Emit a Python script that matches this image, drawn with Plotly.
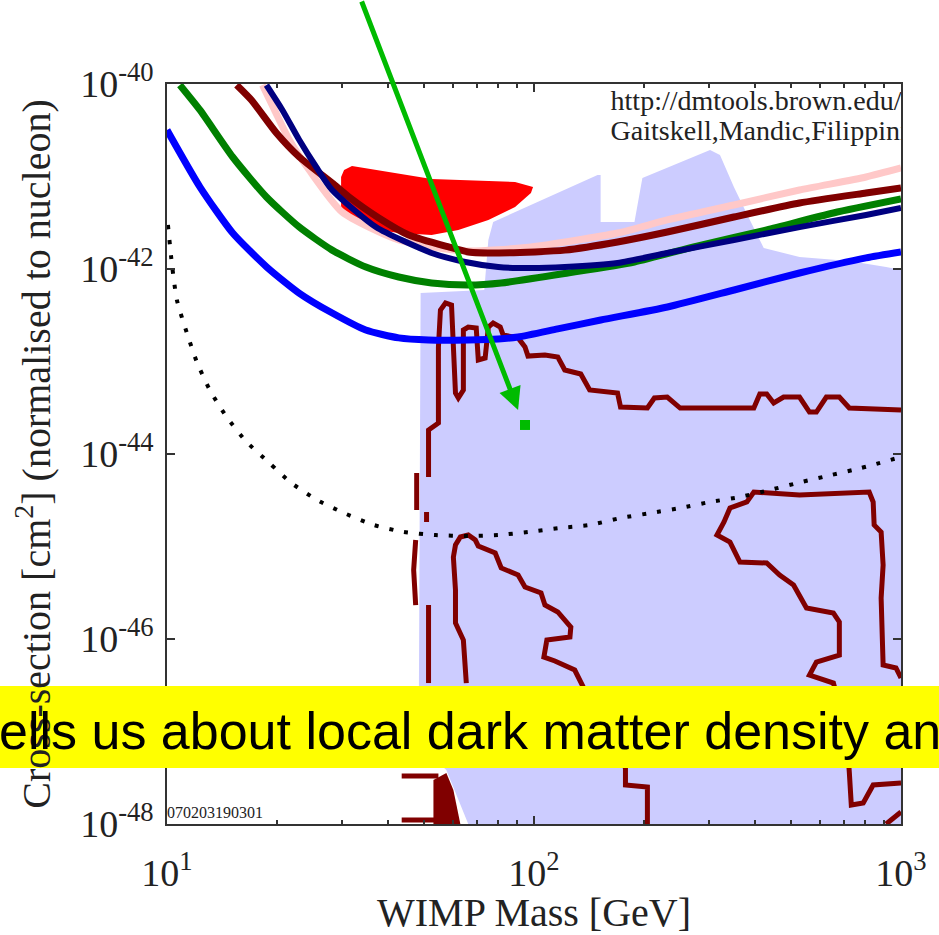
import math
import plotly.graph_objects as go

# ---------------- data: WIMP mass [GeV] vs cross-section [cm^2] ----------------
# broad allowed region (light blue)
region_mass = [49.1, 73.2, 75.1, 77.4, 149, 151.9, 151.9, 187.8, 197.4, 301.8, 321.2,
               350.5, 387.4, 422.7, 529, 723, 911, 1000, 1000, 66.2, 57.7, 48.5]
region_xsec = [5.50e-43, 5.93e-43, 2.06e-42, 3.22e-42, 1.038e-41, 1.038e-41, 3.22e-42,
               3.22e-42, 9.63e-42, 1.934e-41, 1.708e-41, 7.69e-42, 3.39e-42, 1.687e-42,
               1.348e-42, 1.22e-42, 1.05e-42, 9.75e-43, 1e-48, 1e-48, 3.84e-48, 7.15e-48]

# claimed signal region (red)
signal_mass = [29.81, 30.37, 31.92, 52.6, 88.8, 99.4, 98.1, 88.8, 75.1, 62.2, 52.6,
               42.8, 34.83, 31.33, 29.81]
signal_xsec = [9.88e-42, 1.175e-41, 1.30e-41, 9.40e-42, 8.72e-42, 7.69e-42, 6.63e-42,
               4.68e-42, 3.39e-42, 2.64e-42, 2.33e-42, 2.45e-42, 2.77e-42, 3.39e-42, 4.13e-42]

# theory contours (dark red)
contour_a_mass = [51.6, 51.6, 54.9, 54.9, 55.6, 57.4, 59.6, 60.3, 61.1, 62.2, 64.2, 64.2,
                  66.2, 69.6, 70.5, 73.6, 75.1, 77.4, 80.9, 82.4, 90.5, 94.5, 96.3, 107.1,
                  116.1, 121.3, 134.1, 141.8, 168.9, 172.1, 203.7, 212.8, 230.7, 250.2,
                  397.2, 412.4, 430.6, 449.9, 478.8, 529, 563.1, 588.1, 626.0, 679.2, 723, 1000]
contour_a_xsec = [5.64e-45, 1.816e-44, 2.16e-44, 1.435e-43, 3.60e-43, 4.29e-43, 4.08e-43,
                  1.435e-43, 4.56e-44, 4.03e-44, 4.92e-44, 2.19e-43, 2.36e-43, 2.30e-43,
                  1.038e-43, 1.091e-43, 2.36e-43, 2.61e-43, 2.36e-43, 1.934e-43, 1.80e-43,
                  1.435e-43, 1.146e-43, 1.175e-43, 1.118e-43, 8.09e-44, 7.33e-44, 4.92e-44,
                  4.56e-44, 3.22e-44, 3.14e-44, 4.03e-44, 4.13e-44, 3.14e-44, 3.14e-44,
                  4.45e-44, 4.45e-44, 3.56e-44, 4.13e-44, 4.13e-44, 2.84e-44, 2.84e-44,
                  4.13e-44, 4.13e-44, 3.14e-44, 2.99e-44]

contour_edge_mass = [47.9, 47.9, None, 50.96, 50.96, None, 47.6, 47.0, 47.6, None, 51.6, 51.6,
                     None, 43.6, 54.9, None, 43.6, 53.9]
contour_edge_xsec = [6.23e-45, 2.48e-45, None, 2.36e-45, 1.84e-45, None, 1.175e-45, 5.57e-46,
                     2.33e-46, None, 2.33e-46, 3.34e-47, None, 3.30e-48, 3.30e-48, None,
                     1.105e-48, 1.105e-48]

contour_b_mass = [65.4, 64.2, 61.1, 61.1, 60.3, 61.1, 63.0, 66.2, 69.2, 70.5, 78.4, 81.4,
                  90.5, 94.5, 104.5, 107.1, 116.1, 126.0, 125.3, 108.4, 106.4, 114.0, 129.1,
                  135.8, 149, 177.5, 177.5, 203.7, 203.7]
contour_b_xsec = [3.34e-47, 9.75e-47, 1.49e-46, 3.39e-46, 7.69e-46, 1.038e-45, 1.267e-45,
                  1.33e-45, 1.175e-45, 1.012e-45, 8.51e-46, 5.86e-46, 4.92e-46, 3.65e-46,
                  3.14e-46, 2.33e-46, 1.96e-46, 1.348e-46, 1.051e-46, 9.75e-47, 6.38e-47,
                  5.78e-47, 4.62e-47, 3.10e-47, 1.33e-47, 4.03e-48, 2.64e-48, 2.51e-48, 1e-48]

contour_c_mass = [1000, 969, 893.9, 882.8, 893.9, 882.8, 845.0, 839.8, 819.1, 529, 397.2,
                  380.2, 342.0, 329.4, 315.2, 342.0, 363.9, 430.6, 467.0, 509.6, 552.6,
                  654.3, 679.2, 679.2, 588.1, 563.1, 654.3, 709.6, 723, 732.1, 788.9,
                  839.8, 1000, None, 911, 1000]
contour_c_xsec = [3.79e-47, 4.86e-47, 5.24e-47, 2.77e-46, 6.31e-46, 1.435e-45, 1.708e-45,
                  3.03e-45, 3.88e-45, 3.60e-45, 3.88e-45, 3.03e-45, 2.61e-45, 1.84e-45,
                  1.33e-45, 1.118e-45, 6.80e-46, 6.63e-46, 4.92e-46, 3.84e-46, 2.16e-46,
                  1.91e-46, 1.527e-46, 6.71e-47, 5.64e-47, 4.08e-47, 3.34e-47, 1.038e-47,
                  3.65e-48, 1.605e-48, 1.687e-48, 2.64e-48, 2.77e-48, None, 1e-48, 1.349e-48]

contour_fill_mass = [53.2, 57.7, 60.3, 63.0, 53.2]
contour_fill_xsec = [2.99e-48, 3.56e-48, 2.33e-48, 1e-48, 1e-48]

# projected sensitivity (black dotted)
proj_mass = [10.06, 10.32, 10.64, 11.33, 12.06, 13.08, 14.54, 16.48, 19.01, 21.82, 25.66,
             30.37, 36.62, 44.16, 53.9, 66.2, 79.9, 96.3, 117.6, 141.8, 172.1, 207.6,
             250.2, 301.8, 363.9, 438.8, 535.8, 646.2, 778.9, 1000]
proj_xsec = [2.99e-42, 1.105e-42, 4.62e-43, 2.03e-43, 9.88e-44, 4.92e-44, 2.51e-44,
             1.349e-44, 7.99e-45, 4.86e-45, 3.18e-45, 2.30e-45, 1.708e-45, 1.435e-45,
             1.33e-45, 1.299e-45, 1.33e-45, 1.435e-45, 1.585e-45, 1.708e-45, 2.03e-45,
             2.30e-45, 2.61e-45, 3.03e-45, 3.43e-45, 4.08e-45, 4.98e-45, 5.93e-45,
             7.06e-45, 9.28e-45]

# experimental exclusion limits
pink_mass = [18.20, 19.63, 21.54, 24.40, 30.0, 42.8, 65.0, 98.1, 168.9, 230.7, 350.5,
             529, 803, 1000]
pink_xsec = [9.75e-41, 5.24e-41, 2.48e-41, 1.175e-41, 4.13e-42, 2.06e-42, 1.565e-42,
             1.73e-42, 2.45e-42, 3.39e-42, 4.92e-42, 7.14e-42, 9.88e-42, 1.236e-41]

darkred_mass = [15.48, 16.98, 19.87, 22.93, 28.18, 31.33, 37.77, 45.55, 58.5, 66.2, 79.9,
                100.6, 121.3, 168.9, 230.7, 350.5, 529, 803, 1000]
darkred_xsec = [9.75e-41, 6.71e-41, 2.95e-41, 1.625e-41, 8.50e-42, 6.00e-42, 3.56e-42,
                2.33e-42, 1.73e-42, 1.53e-42, 1.49e-42, 1.53e-42, 1.60e-42, 1.96e-42,
                2.51e-42, 3.65e-42, 5.17e-42, 6.63e-42, 7.51e-42]

green_mass = [10.84, 12.29, 15.10, 18.66, 22.93, 28.18, 34.83, 42.8, 52.6, 66.2, 81.4,
              123.6, 187.8, 278, 430.6, 654, 1000]
green_xsec = [9.75e-41, 5.24e-41, 1.625e-41, 6.00e-42, 2.84e-42, 1.60e-42, 1.05e-42,
              8.19e-43, 7.06e-43, 6.71e-43, 7.06e-43, 9.05e-43, 1.19e-42, 1.77e-42,
              2.64e-42, 4.03e-42, 5.71e-42]

navy_mass = [18.66, 20.62, 22.93, 25.50, 28.18, 37.08, 52.6, 65.0, 79.9, 98.1, 121.3,
             168.9, 230.7, 350.5, 529, 803, 1000]
navy_xsec = [9.75e-41, 5.24e-41, 2.48e-41, 1.267e-41, 7.14e-42, 2.84e-42, 1.49e-42,
             1.19e-42, 1.05e-42, 1.025e-42, 1.05e-42, 1.16e-42, 1.49e-42, 2.06e-42,
             2.84e-42, 3.84e-42, 4.57e-42]

blue_mass = [10, 12.3, 15.1, 18.7, 22.9, 28.2, 34.8, 42.8, 51.6, 66.2, 79.9, 90.5, 116,
             152, 231, 351, 529, 803, 1000]
blue_xsec = [3.18e-41, 7.69e-42, 2.45e-42, 1.05e-42, 5.50e-43, 3.34e-43, 2.19e-43,
             1.80e-43, 1.71e-43, 1.71e-43, 1.75e-43, 1.84e-43, 2.25e-43, 2.81e-43,
             3.88e-43, 5.93e-43, 9.05e-43, 1.32e-42, 1.53e-42]

# pointer to the benchmark model
arrow_tip_mass, arrow_tip_xsec = 90.5, 2.99e-44
marker_mass, marker_xsec = [94.5], [2.06e-44]

x_tickvals = [10, 100, 1000]
x_ticktext = ["10<sup>1</sup>", "10<sup>2</sup>", "10<sup>3</sup>"]
x_minor = [20, 30, 40, 50, 60, 70, 80, 90, 200, 300, 400, 500, 600, 700, 800, 900]
y_tickvals = [1e-40, 1e-42, 1e-44, 1e-46, 1e-48]
y_ticktext = ["10<sup>-40</sup>", "10<sup>-42</sup>", "10<sup>-44</sup>",
              "10<sup>-46</sup>", "10<sup>-48</sup>"]

SERIF = "Liberation Serif, Times New Roman, serif"
DARKRED = "#800000"

fig = go.Figure()

fig.add_trace(go.Scatter(x=region_mass, y=region_xsec, fill="toself", mode="none",
                         fillcolor="#ccccff"))
fig.add_trace(go.Scatter(x=signal_mass, y=signal_xsec, fill="toself", mode="none",
                         fillcolor="#ff0000"))

fig.add_trace(go.Scatter(x=contour_fill_mass, y=contour_fill_xsec, fill="toself",
                         mode="none", fillcolor=DARKRED))
for cm, cx in [(contour_a_mass, contour_a_xsec), (contour_edge_mass, contour_edge_xsec),
               (contour_b_mass, contour_b_xsec), (contour_c_mass, contour_c_xsec)]:
    fig.add_trace(go.Scatter(x=cm, y=cx, mode="lines", connectgaps=False,
                             line=dict(color=DARKRED, width=5)))

fig.add_trace(go.Scatter(x=proj_mass, y=proj_xsec, mode="lines",
                         line=dict(color="black", width=4, dash="4px,11px",
                                   shape="spline", smoothing=0.6)))

for cm, cx, col, w in [(pink_mass, pink_xsec, "#ffc8c8", 7),
                       (darkred_mass, darkred_xsec, DARKRED, 7),
                       (green_mass, green_xsec, "#008000", 7),
                       (navy_mass, navy_xsec, "#000080", 6),
                       (blue_mass, blue_xsec, "#0000ff", 7)]:
    fig.add_trace(go.Scatter(x=cm, y=cx, mode="lines",
                             line=dict(color=col, width=w, shape="spline", smoothing=0.6)))

fig.add_trace(go.Scatter(x=marker_mass, y=marker_xsec, mode="markers",
                         marker=dict(symbol="square", size=10, color="#00bb00")))

# credits inside the frame (clipped by the axes)
fig.add_trace(go.Scatter(x=[161.7, 161.7], y=[6.23e-41, 2.95e-41], mode="text",
                         text=["http://dmtools.brown.edu/", "Gaitskell,Mandic,Filippini"],
                         textposition="middle right", cliponaxis=True,
                         textfont=dict(family=SERIF, size=28, color="#222")))
fig.add_trace(go.Scatter(x=[10], y=[1.28e-48], mode="text", text=["070203190301"],
                         textposition="middle right", cliponaxis=True,
                         textfont=dict(family=SERIF, size=16, color="#222")))

axis_common = dict(showline=True, linecolor="#333", linewidth=1.5, mirror="ticks",
                   ticks="inside", ticklen=8, tickwidth=1.5, tickcolor="#333",
                   showgrid=False, zeroline=False,
                   tickfont=dict(family=SERIF, size=38, color="#222"))

fig.update_xaxes(type="log", range=[1, 3], tickvals=x_tickvals, ticktext=x_ticktext,
                 minor=dict(ticks="inside", ticklen=4, tickwidth=1.5, tickcolor="#333",
                            tickvals=x_minor, showgrid=False),
                 title=dict(text="WIMP Mass [GeV]", standoff=1,
                            font=dict(family=SERIF, size=40, color="#222")),
                 ticklabelstandoff=15, **axis_common)
fig.update_yaxes(type="log", range=[-48, -40], tickvals=y_tickvals, ticktext=y_ticktext,
                 title=dict(text="Cross-section [cm<sup>2</sup>] (normalised to nucleon)",
                            standoff=17, font=dict(family=SERIF, size=40, color="#222")),
                 ticklabelstandoff=4, **axis_common)

# caption band across the slide
fig.add_shape(type="rect", xref="paper", yref="paper", x0=-0.25, x1=1.07,
              y0=0.0757, y1=0.1865, fillcolor="#ffff00", line=dict(width=0), layer="above")
fig.add_annotation(xref="paper", yref="paper", x=-0.231, y=0.126, xanchor="left",
                   yanchor="middle", showarrow=False,
                   text="ells us about local dark matter density an",
                   font=dict(family="Liberation Sans, Arial, sans-serif", size=52,
                             color="black"))

# green pointer arrow
fig.add_annotation(x=math.log10(arrow_tip_mass), y=math.log10(arrow_tip_xsec),
                   xref="x", yref="y", ax=-157, ay=-410, text="", showarrow=True,
                   arrowhead=2, arrowsize=0.9, arrowwidth=5, arrowcolor="#00bb00",
                   standoff=0)

fig.update_layout(width=939, height=935, autosize=False, showlegend=False,
                  margin=dict(l=167, r=34, t=84, b=111),
                  paper_bgcolor="white", plot_bgcolor="white")

fig.write_html("out.html")
